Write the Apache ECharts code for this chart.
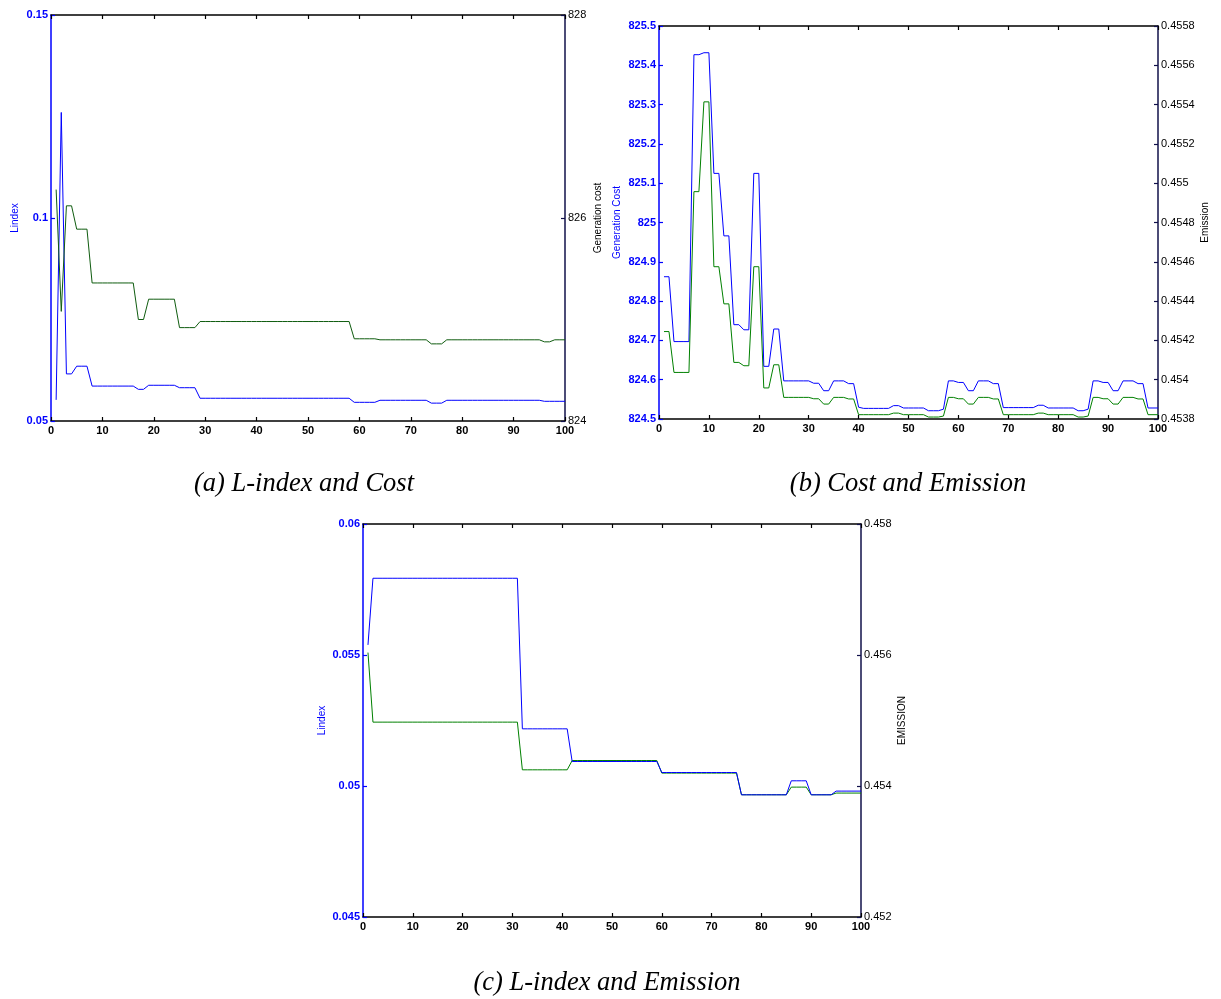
<!DOCTYPE html>
<html><head><meta charset="utf-8">
<script src="https://cdn.jsdelivr.net/npm/echarts@6/dist/echarts.min.js"></script>
<style>html,body{margin:0;padding:0;background:#fff}#c{width:1221px;height:999px}</style>
</head><body><div id="c"></div>
<script>
const iterations = [1,2,3,4,5,6,7,8,9,10,11,12,13,14,15,16,17,18,19,20,21,22,23,24,25,26,27,28,29,30,31,32,33,34,35,36,37,38,39,40,41,42,43,44,45,46,47,48,49,50,51,52,53,54,55,56,57,58,59,60,61,62,63,64,65,66,67,68,69,70,71,72,73,74,75,76,77,78,79,80,81,82,83,84,85,86,87,88,89,90,91,92,93,94,95,96,97,98,99,100];

// (a) L-index and Cost
const lIndexA = [0.0552,0.126,0.0616,0.0616,0.0635,0.0635,0.0635,
  0.0586,0.0586,0.0586,0.0586,0.0586,0.0586,0.0586,0.0586,0.0586,
  0.0578,0.0578,
  0.0588,0.0588,0.0588,0.0588,0.0588,0.0588,
  0.0582,0.0582,0.0582,0.0582,
  0.0556,0.0556,0.0556,0.0556,0.0556,0.0556,0.0556,0.0556,0.0556,0.0556,
  0.0556,0.0556,0.0556,0.0556,0.0556,0.0556,0.0556,0.0556,0.0556,0.0556,
  0.0556,0.0556,0.0556,0.0556,0.0556,0.0556,0.0556,0.0556,0.0556,0.0556,
  0.0546,0.0546,0.0546,0.0546,0.0546,
  0.0551,0.0551,0.0551,0.0551,0.0551,0.0551,0.0551,0.0551,0.0551,0.0551,
  0.0544,0.0544,0.0544,
  0.0551,0.0551,0.0551,0.0551,0.0551,0.0551,0.0551,0.0551,0.0551,0.0551,
  0.0551,0.0551,0.0551,0.0551,0.0551,0.0551,0.0551,0.0551,0.0551,
  0.05485,0.05485,0.05485,0.05485,0.05485];
const costA = [826.28,825.08,826.12,826.12,825.89,825.89,825.89,
  825.36,825.36,825.36,825.36,825.36,825.36,825.36,825.36,825.36,
  825.00,825.00,
  825.20,825.20,825.20,825.20,825.20,825.20,
  824.92,824.92,824.92,824.92,
  824.98,824.98,824.98,824.98,824.98,824.98,824.98,824.98,824.98,824.98,
  824.98,824.98,824.98,824.98,824.98,824.98,824.98,824.98,824.98,824.98,
  824.98,824.98,824.98,824.98,824.98,824.98,824.98,824.98,824.98,824.98,
  824.81,824.81,824.81,824.81,824.81,
  824.80,824.80,824.80,824.80,824.80,824.80,824.80,824.80,824.80,824.80,
  824.76,824.76,824.76,
  824.80,824.80,824.80,824.80,824.80,824.80,824.80,824.80,824.80,824.80,
  824.80,824.80,824.80,824.80,824.80,824.80,824.80,824.80,824.80,
  824.78,824.78,824.80,824.80,824.80];

// (b) Cost and Emission
const costB = [824.862,824.862,824.697,824.697,824.697,824.697,825.427,825.427,825.432,825.432,
  825.125,825.125,824.966,824.966,824.740,824.740,824.727,824.727,825.125,825.125,
  824.634,824.634,824.729,824.729,824.597,824.597,824.597,824.597,824.597,824.597,
  824.591,824.591,824.572,824.572,824.597,824.597,824.597,824.590,824.590,824.530,
  824.527,824.527,824.527,824.527,824.527,824.527,824.534,824.534,824.528,824.528,
  824.528,824.528,824.528,824.521,824.521,824.521,824.525,824.597,824.597,824.593,
  824.593,824.572,824.572,824.597,824.597,824.597,824.590,824.590,824.529,824.529,
  824.529,824.529,824.529,824.529,824.529,824.535,824.535,824.528,824.528,824.528,
  824.528,824.528,824.528,824.521,824.521,824.525,824.597,824.597,824.593,824.593,
  824.572,824.572,824.597,824.597,824.597,824.590,824.590,824.528,824.528,824.528];
const emisB = [0.454245,0.454245,0.454037,0.454037,0.454037,0.454037,0.454957,0.454957,0.455414,0.455414,
  0.454575,0.454575,0.454386,0.454386,0.454088,0.454088,0.454071,0.454071,0.454575,0.454575,
  0.453958,0.453958,0.454076,0.454076,0.453910,0.453910,0.453910,0.453910,0.453910,0.453910,
  0.453903,0.453903,0.453876,0.453876,0.453910,0.453910,0.453910,0.453902,0.453902,0.453822,
  0.453822,0.453822,0.453822,0.453822,0.453822,0.453822,0.453830,0.453830,0.453822,0.453822,
  0.453822,0.453822,0.453822,0.453810,0.453810,0.453810,0.453815,0.453910,0.453910,0.453903,
  0.453903,0.453876,0.453876,0.453910,0.453910,0.453910,0.453902,0.453902,0.453822,0.453822,
  0.453822,0.453822,0.453822,0.453822,0.453822,0.453830,0.453830,0.453822,0.453822,0.453822,
  0.453822,0.453822,0.453822,0.453810,0.453810,0.453815,0.453910,0.453910,0.453903,0.453903,
  0.453876,0.453876,0.453910,0.453910,0.453910,0.453902,0.453902,0.453822,0.453822,0.453822];

// (c) L-index and Emission
const lIndexC = [0.055385,
  0.057929,0.057929,0.057929,0.057929,0.057929,0.057929,0.057929,0.057929,0.057929,0.057929,
  0.057929,0.057929,0.057929,0.057929,0.057929,0.057929,0.057929,0.057929,0.057929,0.057929,
  0.057929,0.057929,0.057929,0.057929,0.057929,0.057929,0.057929,0.057929,0.057929,0.057929,
  0.052182,0.052182,0.052182,0.052182,0.052182,0.052182,0.052182,0.052182,0.052182,0.052182,
  0.050935,0.050935,0.050935,0.050935,0.050935,0.050935,0.050935,0.050935,0.050935,
  0.050935,0.050935,0.050935,0.050935,0.050935,0.050935,0.050935,0.050935,0.050935,
  0.050515,0.050515,0.050515,0.050515,0.050515,0.050515,0.050515,0.050515,
  0.050515,0.050515,0.050515,0.050515,0.050515,0.050515,0.050515,0.050515,
  0.049664,0.049664,0.049664,0.049664,0.049664,0.049664,0.049664,0.049664,0.049664,0.049664,
  0.050198,0.050198,0.050198,0.050198,
  0.049664,0.049664,0.049664,0.049664,0.049664,
  0.049805,0.049805,0.049805,0.049805,0.049805,0.049805];
const emisC = [0.456037,
  0.454975,0.454975,0.454975,0.454975,0.454975,0.454975,0.454975,0.454975,0.454975,0.454975,
  0.454975,0.454975,0.454975,0.454975,0.454975,0.454975,0.454975,0.454975,0.454975,0.454975,
  0.454975,0.454975,0.454975,0.454975,0.454975,0.454975,0.454975,0.454975,0.454975,0.454975,
  0.454247,0.454247,0.454247,0.454247,0.454247,0.454247,0.454247,0.454247,0.454247,0.454247,
  0.454389,0.454389,0.454389,0.454389,0.454389,0.454389,0.454389,0.454389,0.454389,
  0.454389,0.454389,0.454389,0.454389,0.454389,0.454389,0.454389,0.454389,0.454389,
  0.454197,0.454197,0.454197,0.454197,0.454197,0.454197,0.454197,0.454197,
  0.454197,0.454197,0.454197,0.454197,0.454197,0.454197,0.454197,0.454197,
  0.453866,0.453866,0.453866,0.453866,0.453866,0.453866,0.453866,0.453866,0.453866,0.453866,
  0.453983,0.453983,0.453983,0.453983,
  0.453866,0.453866,0.453866,0.453866,0.453866,
  0.453892,0.453892,0.453892,0.453892,0.453892,0.453892];

const captions = ['(a) L-index and Cost', '(b) Cost and Emission', '(c) L-index and Emission'];

const SANS = 'Liberation Sans, Arial, sans-serif';
const BLUE = '#0000ff';
const GREEN = '#008000';
const RIGHT_LINE = '#10104a';
const CAPFONT = 'italic 26.5px "Liberation Serif", "Times New Roman", serif';

function pairs(arr){ return iterations.map((x,k)=>[x, arr[k]]); }

function xAx(g, top){
  return {
    gridIndex:g, type:'value', min:0, max:100, interval:10,
    position: top ? 'top' : 'bottom',
    axisLine:{show:true, onZero:false, lineStyle:{color:'#000', width:1.5}},
    axisTick:{show:true, inside:true, length:4, lineStyle:{color:'#000', width:1.2}},
    axisLabel:{show:!top, color:'#000', fontSize:11, fontWeight:'bold', margin:4, fontFamily:SANS},
    splitLine:{show:false}
  };
}
function yAx(g, right, min, max, interval, name, nameGap, color, lineColor){
  return {
    gridIndex:g, type:'value', min:min, max:max, interval:interval,
    position: right ? 'right' : 'left',
    axisLine:{show:true, onZero:false, lineStyle:{color:lineColor, width:1.5}},
    axisTick:{show:true, inside:true, length:4, lineStyle:{color:lineColor, width:1.2}},
    axisLabel:{color:color, fontSize:11, fontWeight: right ? 'normal' : 'bold', margin:3, fontFamily:SANS},
    splitLine:{show:false},
    name:name, nameLocation:'middle', nameRotate:90, nameGap:nameGap,
    nameTextStyle:{color:color, fontSize:10, fontFamily:SANS}
  };
}
function line(xi, yi, arr, color){
  return {type:'line', xAxisIndex:xi, yAxisIndex:yi, data:pairs(arr), showSymbol:false,
    symbol:'none', lineStyle:{color:color, width:1}, itemStyle:{color:color}, z:2};
}

const chart = echarts.init(document.getElementById('c'), null, {renderer:'canvas'});
chart.setOption({
  animation:false,
  backgroundColor:'#fff',
  grid:[
    {left:51, top:15, width:514, height:406},
    {left:659, top:26, width:499, height:393},
    {left:363, top:524, width:498, height:393}
  ],
  xAxis:[xAx(0,false), xAx(0,true), xAx(1,false), xAx(1,true), xAx(2,false), xAx(2,true)],
  yAxis:[
    yAx(0,false,0.05,0.15,0.05,'Lindex',31,BLUE,BLUE),
    yAx(0,true,824,828,2,'Generation cost',28,'#000',RIGHT_LINE),
    yAx(1,false,824.5,825.5,0.1,'Generation Cost',37,BLUE,BLUE),
    yAx(1,true,0.4538,0.4558,0.0002,'Emission',42,'#000',RIGHT_LINE),
    yAx(2,false,0.045,0.06,0.005,'Lindex',36,BLUE,BLUE),
    yAx(2,true,0.452,0.458,0.002,'EMISSION',36,'#000',RIGHT_LINE)
  ],
  series:[
    line(0,0,lIndexA,BLUE),
    line(0,1,costA,'#0f5c0f'),
    line(2,2,costB,BLUE),
    line(2,3,emisB,GREEN),
    line(4,5,emisC,GREEN),
    line(4,4,lIndexC,BLUE)
  ],
  graphic:[
    {type:'text', x:304, y:484, style:{text:captions[0], font:CAPFONT, fill:'#000', textAlign:'center', textVerticalAlign:'middle'}},
    {type:'text', x:908, y:484, style:{text:captions[1], font:CAPFONT, fill:'#000', textAlign:'center', textVerticalAlign:'middle'}},
    {type:'text', x:607, y:983, style:{text:captions[2], font:CAPFONT, fill:'#000', textAlign:'center', textVerticalAlign:'middle'}}
  ]
});
</script>
</body></html>
